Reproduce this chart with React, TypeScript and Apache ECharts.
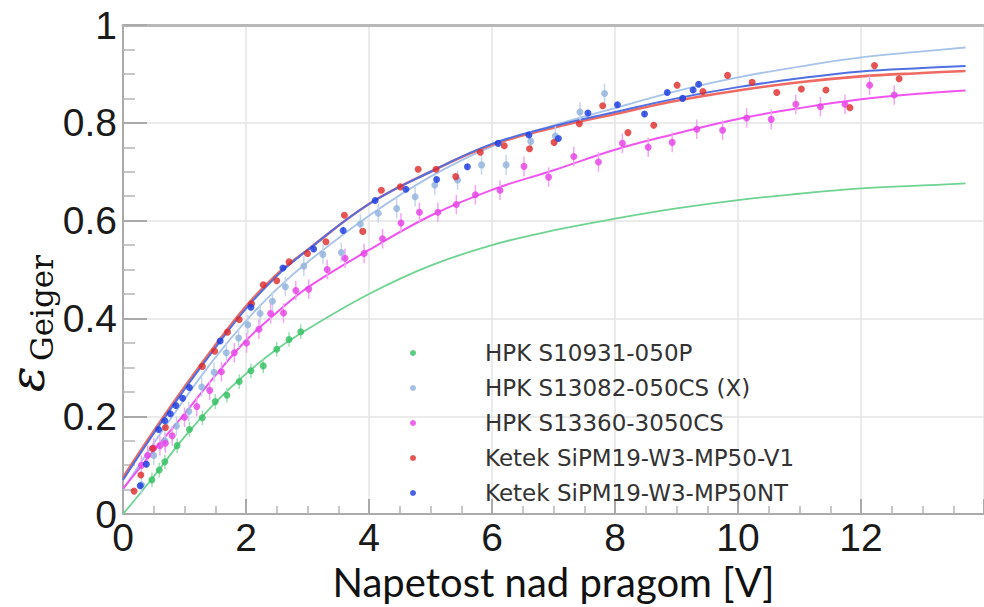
import React, { useEffect, useRef } from "react";
import * as echarts from "echarts";

// ---- data ----
const seriesNames = [
  "HPK S10931-050P",
  "HPK S13082-050CS (X)",
  "HPK S13360-3050CS",
  "Ketek SiPM19-W3-MP50-V1",
  "Ketek SiPM19-W3-MP50NT",
];

const greenX = [0.47, 0.59, 0.68, 0.88, 1.08, 1.29, 1.5, 1.69, 1.89, 2.08, 2.28, 2.5, 2.7, 2.89];
const greenY = [0.07, 0.09, 0.107, 0.14, 0.173, 0.197, 0.23, 0.243, 0.271, 0.293, 0.303, 0.337, 0.357, 0.373];

const lightBlueX = [0.3, 0.5, 0.68, 0.87, 1.07, 1.28, 1.48, 1.68, 1.88, 2.03, 2.23, 2.43, 2.64, 2.94, 3.25, 3.55, 3.86, 4.15, 4.45, 4.75, 5.07, 5.44, 5.83, 6.23, 6.63, 7.03, 7.43, 7.83];
const lightBlueY = [0.06, 0.12, 0.15, 0.18, 0.21, 0.26, 0.29, 0.33, 0.36, 0.387, 0.41, 0.435, 0.465, 0.507, 0.531, 0.535, 0.593, 0.615, 0.625, 0.649, 0.673, 0.683, 0.714, 0.714, 0.762, 0.773, 0.822, 0.86];

const pinkX = [0.3, 0.4, 0.5, 0.6, 0.69, 0.8, 1.0, 1.2, 1.41, 1.6, 1.81, 2.01, 2.21, 2.4, 2.61, 2.81, 3.02, 3.32, 3.61, 3.92, 4.22, 4.52, 4.82, 5.12, 5.42, 5.73, 6.13, 6.52, 6.92, 7.33, 7.73, 8.12, 8.54, 8.93, 9.33, 9.75, 10.14, 10.54, 10.94, 11.34, 11.74, 12.14, 12.54];
const pinkY = [0.1, 0.12, 0.135, 0.14, 0.145, 0.16, 0.198, 0.22, 0.253, 0.291, 0.33, 0.35, 0.378, 0.41, 0.411, 0.457, 0.46, 0.5, 0.523, 0.533, 0.563, 0.595, 0.617, 0.617, 0.633, 0.653, 0.662, 0.711, 0.689, 0.731, 0.72, 0.758, 0.75, 0.76, 0.787, 0.785, 0.81, 0.807, 0.838, 0.833, 0.838, 0.877, 0.857];

const redX = [0.18, 0.29, 0.48, 0.69, 1.29, 1.49, 1.7, 1.89, 2.09, 2.28, 2.5, 2.7, 3.0, 3.3, 3.6, 3.9, 4.2, 4.51, 4.8, 5.09, 5.41, 5.81, 6.2, 6.61, 7.01, 7.42, 7.8, 8.21, 8.63, 9.01, 9.43, 9.83, 10.23, 10.63, 11.03, 11.43, 11.82, 12.22, 12.62];
const redY = [0.047, 0.08, 0.134, 0.177, 0.302, 0.333, 0.372, 0.398, 0.43, 0.469, 0.477, 0.516, 0.533, 0.557, 0.611, 0.578, 0.662, 0.669, 0.705, 0.705, 0.69, 0.74, 0.753, 0.747, 0.76, 0.798, 0.835, 0.78, 0.795, 0.877, 0.864, 0.897, 0.883, 0.862, 0.869, 0.867, 0.831, 0.917, 0.89];

const blueX = [0.28, 0.38, 0.58, 0.68, 0.77, 0.86, 0.97, 1.08, 1.58, 2.08, 2.6, 3.1, 3.58, 4.1, 4.6, 5.1, 5.6, 6.1, 6.6, 7.08, 7.56, 8.04, 8.48, 8.85, 9.1, 9.27, 9.36];
const blueY = [0.058, 0.102, 0.173, 0.191, 0.205, 0.222, 0.237, 0.259, 0.354, 0.423, 0.503, 0.542, 0.58, 0.641, 0.664, 0.684, 0.71, 0.758, 0.775, 0.768, 0.82, 0.837, 0.818, 0.862, 0.85, 0.867, 0.879];

// fitted curves, read at these voltages
const fitX = [0, 0.5, 1, 1.5, 2, 2.5, 3, 4, 5, 6, 7, 8, 9, 10, 11, 12, 13, 13.7];
const greenFit = [0, 0.077, 0.158, 0.228, 0.287, 0.337, 0.378, 0.45, 0.508, 0.55, 0.58, 0.604, 0.625, 0.642, 0.655, 0.666, 0.672, 0.676];
const lightBlueFit = [0.05, 0.145, 0.235, 0.32, 0.395, 0.46, 0.515, 0.61, 0.69, 0.752, 0.795, 0.83, 0.865, 0.893, 0.915, 0.934, 0.946, 0.954];
const pinkFit = [0.052, 0.13, 0.205, 0.283, 0.355, 0.412, 0.463, 0.54, 0.61, 0.663, 0.703, 0.745, 0.778, 0.808, 0.83, 0.848, 0.86, 0.866];
const redFit = [0.075, 0.17, 0.26, 0.345, 0.425, 0.49, 0.54, 0.634, 0.7, 0.755, 0.79, 0.818, 0.845, 0.866, 0.883, 0.895, 0.902, 0.906];
const blueFit = [0.07, 0.165, 0.255, 0.34, 0.42, 0.487, 0.54, 0.634, 0.7, 0.757, 0.793, 0.822, 0.85, 0.873, 0.891, 0.905, 0.912, 0.916];

// half-heights of the error bars
const errHalf = [0.015, 0.02, 0.02, 0, 0.006];

const xTitle = "Napetost nad pragom [V]";

const pointColors = ["#2fbf5f", "#90b2dc", "#e63fe6", "#e02828", "#1a3be0"];
const lineColors = ["#6fd391", "#a7c3e9", "#f055f0", "#ee6a62", "#5070e2"];
const barColors = ["#9fe0b4", "#c4d6ee", "#f4a4f4", "#f0a0a0", "#8ea2ee"];

const zip = (xs: number[], ys: number[]) => xs.map((x, i) => [x, ys[i]]);

export default function App() {
  const ref = useRef<HTMLDivElement>(null);
  useEffect(() => {
    if (!ref.current) return;
    const chart = echarts.init(ref.current, undefined, { renderer: "svg" });
    const pts = [
      zip(greenX, greenY),
      zip(lightBlueX, lightBlueY),
      zip(pinkX, pinkY),
      zip(redX, redY),
      zip(blueX, blueY),
    ];
    const fits = [greenFit, lightBlueFit, pinkFit, redFit, blueFit].map((f) => zip(fitX, f));
    const lineWidths = [1.8, 1.8, 2, 2.6, 2];

    const series: any[] = [];
    fits.forEach((d, i) => {
      series.push({
        name: "fit " + seriesNames[i],
        type: "line",
        data: d,
        smooth: 0.4,
        showSymbol: false,
        symbol: "none",
        lineStyle: { color: lineColors[i], width: lineWidths[i] },
        z: 2,
      });
    });
    pts.forEach((d, i) => {
      if (errHalf[i] > 0) {
        const e = errHalf[i];
        series.push({
          name: "err " + seriesNames[i],
          type: "custom",
          data: d,
          z: 3,
          renderItem: (params: any, api: any) => {
            const x = api.value(0);
            const y = api.value(1);
            const p1 = api.coord([x, y - e]);
            const p2 = api.coord([x, y + e]);
            return {
              type: "line",
              shape: { x1: p1[0], y1: p1[1], x2: p2[0], y2: p2[1] },
              style: { stroke: barColors[i], lineWidth: 1.5 },
            };
          },
        });
      }
    });
    pts.forEach((d, i) => {
      series.push({
        name: seriesNames[i],
        type: "scatter",
        data: d,
        symbol: "circle",
        symbolSize: 7,
        itemStyle: { color: pointColors[i] },
        z: 4,
      });
    });

    const axisGray = "#aaaaaa";
    chart.setOption({
      animation: false,
      backgroundColor: "#ffffff",
      grid: { left: 123, top: 25, right: -19, bottom: 82 },
      xAxis: [
        {
          type: "value",
          min: 0,
          max: 14,
          interval: 2,
          position: "bottom",
          axisLine: { show: true, lineStyle: { color: axisGray, width: 2 } },
          axisTick: { show: true, inside: true, length: 15, lineStyle: { color: axisGray, width: 2 } },
          minorTick: { show: true, splitNumber: 4, length: 8, lineStyle: { color: "#b5b5b5", width: 1.5 } },
          splitLine: { show: true, lineStyle: { color: "#e4e4e4", width: 1.5 } },
          axisLabel: {
            fontSize: 39,
            fontFamily: "Liberation Sans",
            color: "#1a1a1a",
            margin: 4,
            showMaxLabel: false,
          },
          name: xTitle,
          nameLocation: "middle",
          nameGap: 40,
          nameTextStyle: { fontSize: 40, fontFamily: "Lato", color: "#111111" },
        },
        {
          type: "value",
          min: 0,
          max: 14,
          position: "top",
          axisLine: { show: true, lineStyle: { color: "#b8b8b8", width: 3 } },
          axisTick: { show: false },
          axisLabel: { show: false },
          splitLine: { show: false },
        },
      ],
      yAxis: {
        type: "value",
        min: 0,
        max: 1,
        interval: 0.2,
        axisLine: { show: true, lineStyle: { color: axisGray, width: 2 } },
        axisTick: { show: true, inside: true, length: 24, lineStyle: { color: axisGray, width: 2 } },
        minorTick: { show: true, splitNumber: 4, length: 12, lineStyle: { color: "#b5b5b5", width: 1.5 } },
        splitLine: { show: true, lineStyle: { color: "#e4e4e4", width: 1.5 } },
        axisLabel: {
          fontSize: 39,
          fontFamily: "Liberation Sans",
          color: "#1a1a1a",
          margin: 6,
        },
      },
      legend: {
        orient: "vertical",
        left: 405,
        top: 336,
        itemWidth: 6,
        itemHeight: 6,
        itemGap: 11,
        icon: "circle",
        data: seriesNames,
        selectedMode: false,
        textStyle: {
          fontSize: 23,
          fontFamily: "DejaVu Sans",
          color: "#333333",
          lineHeight: 24,
          padding: [0, 0, 0, 64],
        },
      },
      graphic: [
        {
          type: "text",
          x: 27,
          y: 379,
          rotation: Math.PI / 2,
          style: {
            text: "ε",
            fontSize: 48,
            fontStyle: "italic",
            fontFamily: "DejaVu Serif",
            fill: "#111111",
            align: "center",
            verticalAlign: "middle",
          },
        },
        {
          type: "text",
          x: 42,
          y: 308,
          rotation: Math.PI / 2,
          style: {
            text: "Geiger",
            fontSize: 31,
            fontFamily: "DejaVu Serif",
            fill: "#111111",
            align: "center",
            verticalAlign: "middle",
          },
        },
      ],
      series,
    });
    return () => chart.dispose();
  }, []);
  return <div ref={ref} style={{ width: 984, height: 607, position: "absolute", left: 0, top: 0 }} />;
}
